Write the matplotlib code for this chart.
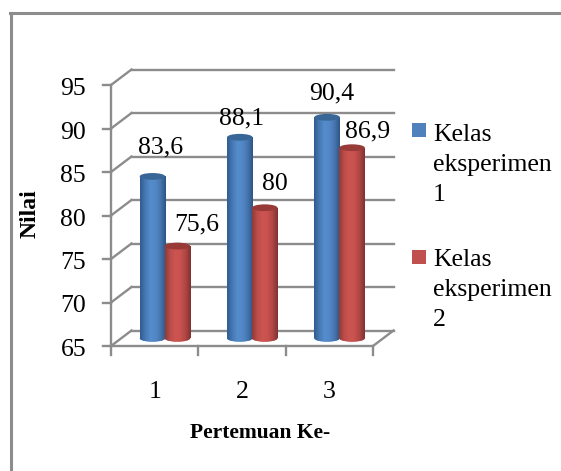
import numpy as np
import matplotlib
matplotlib.use("Agg")
import matplotlib.pyplot as plt
from matplotlib.patches import Ellipse, Rectangle
from matplotlib.transforms import ScaledTranslation
from matplotlib.colors import LinearSegmentedColormap

categories = ["1", "2", "3"]
series1 = [83.6, 88.1, 90.4]
series2 = [75.6, 80, 86.9]
labels1 = ["83,6", "88,1", "90,4"]
labels2 = ["75,6", "80", "86,9"]
name1 = "Kelas\neksperimen\n1"
name2 = "Kelas\neksperimen\n2"
yticks = [65, 70, 75, 80, 85, 90, 95]

W, H = 561, 471
plt.rcParams["font.family"] = "Liberation Serif"
fig = plt.figure(figsize=(W / 100, H / 100), dpi=100)
fig.patch.set_facecolor("white")

# front plane of the pseudo-3D box, in pixels
L, R, T, B = 111, 373, 85, 346
ax = fig.add_axes([L / W, 1 - B / H, (R - L) / W, (B - T) / H])
ax.set_xlim(0, 3)
ax.set_ylim(65, 95)
ax.axis("off")

GRID = "#8c8c8c"
DX, DY = 20.5, 15.5
def shifted(px, py):
    return ax.transData + ScaledTranslation(px / 100, py / 100, fig.dpi_scale_trans)
back = shifted(DX, DY)
mid = shifted(DX * 0.5, DY * 0.5)

FS = 18.5
lw = 1.7
def figline(xs, ys, **kw):
    fig.add_artist(plt.Line2D([a / W for a in xs], [b / H for b in ys],
                              transform=fig.transFigure, color=GRID, zorder=1, **kw))

for v in yticks:
    ax.plot([0, 3], [v, v], transform=back, color=GRID, lw=lw, clip_on=False, zorder=1)
    p0 = ax.transData.transform((0, v))
    p1 = back.transform((0, v))
    figline([p0[0], p1[0]], [p0[1], p1[1]], lw=lw)
    figline([p0[0] - 8, p0[0]], [p0[1], p0[1]], lw=lw)
    ax.text(0, v, str(v), transform=shifted(-25, -4),
            ha="right", va="center", fontsize=FS, color="black", clip_on=False)
ax.plot([0, 0], [65, 95], color=GRID, lw=lw, clip_on=False, zorder=1)

# floor
ax.plot([0, 3], [65, 65], color=GRID, lw=lw, clip_on=False, zorder=1)
p0 = ax.transData.transform((3, 65))
p1 = back.transform((3, 65))
figline([p0[0], p1[0]], [p0[1], p1[1]], lw=lw)
for i in range(4):
    p = ax.transData.transform((i, 65))
    figline([p[0], p[0]], [p[1], p[1] - 9], lw=lw)

x = np.arange(len(categories)) + 0.5
bw = 25.5 / ((R - L) / 3)
cap_h = 3.4 / ((B - T) / 30) * 2

cm_blue = LinearSegmentedColormap.from_list("b", ["#2f5b90", "#4678b4", "#558ccb", "#5288c8", "#4675ad", "#2d5585"])
cm_red = LinearSegmentedColormap.from_list("r", ["#8f3a38", "#bb4d4a", "#cc5552", "#c9524f", "#ad4644", "#7f3230"])
grad = np.linspace(0, 1, 128).reshape(1, -1)

def cylinders(xs, vals, cmap, cap, z):
    bars = ax.bar(xs, np.array(vals) - 65, width=bw, bottom=65, color=cmap(0.5),
                  transform=mid, clip_on=False, zorder=z)
    for b in bars:
        x0, w, top = b.get_x(), b.get_width(), b.get_y() + b.get_height()
        cx = x0 + w / 2
        foot = Ellipse((cx, 65), w, cap_h, transform=mid, facecolor=cmap(0.5),
                       edgecolor="none", clip_on=False, zorder=z)
        ax.add_patch(foot)
        for patch, ext in ((b, (x0, x0 + w, 65, top)),
                           (foot, (x0, x0 + w, 65 - cap_h / 2, 65 + cap_h / 2))):
            im = ax.imshow(grad, cmap=cmap, extent=ext, aspect="auto", transform=mid,
                           zorder=z + 0.1, interpolation="bilinear")
            im.set_clip_path(patch)
        ax.add_patch(Ellipse((cx, top), w, cap_h, transform=mid, facecolor=cap,
                             edgecolor="none", clip_on=False, zorder=z + 0.2))

offs = bw / 2 - 0.003
cylinders(x - offs, series1, cm_blue, "#386797", 3)
cylinders(x + offs, series2, cm_red, "#973a38", 4)
ax.set_xlim(0, 3)
ax.set_ylim(65, 95)

# data labels: offsets from each cylinder top, in pixels
lab1_off = [(8, 23.4), (1.5, 13), (5, 18)]
lab2_off = [(19, 16), (10, 17.7), (15, 10.7)]
for xs, vals, labs, offsets in ((x - offs, series1, labels1, lab1_off),
                                (x + offs, series2, labels2, lab2_off)):
    for xi, v, s, o in zip(xs, vals, labs, offsets):
        ax.text(xi, v, s, transform=mid + ScaledTranslation(o[0] / 100, o[1] / 100, fig.dpi_scale_trans),
                ha="center", va="baseline", fontsize=FS, clip_on=False, zorder=6)

# category labels
for xi, c in zip(x, categories):
    ax.text(xi, 65, c, transform=shifted(0, -46),
            ha="center", va="center", fontsize=FS, clip_on=False)

# axis titles
fig.text(30 / W, 1 - 214 / H, "Nilai", rotation=90, ha="center", va="center",
         fontsize=17, fontweight="bold")
fig.text(260 / W, 1 - 433 / H, "Pertemuan Ke-", ha="center", va="center",
         fontsize=15.5, fontweight="bold")

# legend
for ty, sy, name, col in ((124, 123, name1, "#4f81bd"), (249, 250, name2, "#c0504d")):
    fig.add_artist(Rectangle((412 / W, 1 - (sy + 14) / H), 14 / W, 14 / H, transform=fig.transFigure,
                             facecolor=col, edgecolor="none"))
    fig.text(433 / W, 1 - ty / H, name, ha="left", va="top", fontsize=FS, linespacing=1.47)

# outer frame: only the top and left edges show
figline([10, W], [H - 12.5, H - 12.5], lw=2.2)
figline([11, 11], [H - 12.5, 0], lw=2.2)

fig.savefig("out.png", dpi=100)
